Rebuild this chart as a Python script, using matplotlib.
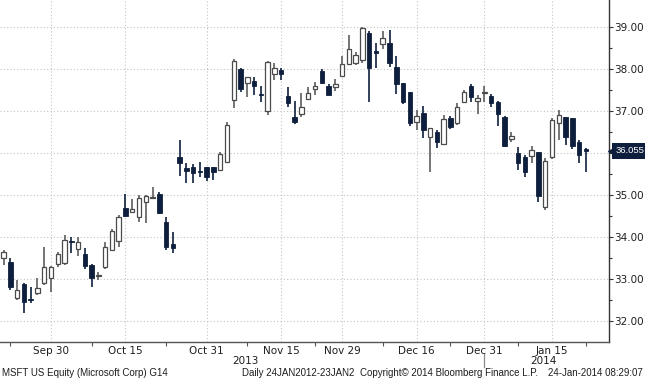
"""MSFT daily candles, Sep 2013 - Jan 2014, Bloomberg-style chart."""

import matplotlib

matplotlib.use("Agg")
import matplotlib.pyplot as plt
from matplotlib.lines import Line2D
from matplotlib.transforms import blended_transform_factory

# trading days, Sep 19 2013 .. Jan 23 2014
dates = [
    "Sep 19", "Sep 20", "Sep 23", "Sep 24", "Sep 25", "Sep 26", "Sep 27", "Sep 30",
    "Oct 1", "Oct 2", "Oct 3", "Oct 4", "Oct 7", "Oct 8", "Oct 9", "Oct 10",
    "Oct 11", "Oct 14", "Oct 15", "Oct 16", "Oct 17", "Oct 18", "Oct 21", "Oct 22",
    "Oct 23", "Oct 24", "Oct 25", "Oct 28", "Oct 29", "Oct 30", "Oct 31",
    "Nov 1", "Nov 4", "Nov 5", "Nov 6", "Nov 7", "Nov 8", "Nov 11", "Nov 12",
    "Nov 13", "Nov 14", "Nov 15", "Nov 18", "Nov 19", "Nov 20", "Nov 21", "Nov 22",
    "Nov 25", "Nov 26", "Nov 27", "Nov 29",
    "Dec 2", "Dec 3", "Dec 4", "Dec 5", "Dec 6", "Dec 9", "Dec 10", "Dec 11",
    "Dec 12", "Dec 13", "Dec 16", "Dec 17", "Dec 18", "Dec 19", "Dec 20", "Dec 23",
    "Dec 24", "Dec 26", "Dec 27", "Dec 30", "Dec 31",
    "Jan 2", "Jan 3", "Jan 6", "Jan 7", "Jan 8", "Jan 9", "Jan 10", "Jan 13",
    "Jan 14", "Jan 15", "Jan 16", "Jan 17", "Jan 21", "Jan 22", "Jan 23",
]
opens = [
    33.50, 33.40, 32.55, 32.88, 32.52, 32.67, 32.90, 33.02,
    33.36, 33.38, 33.90, 33.71, 33.60, 33.33, 33.07, 33.29,
    33.69, 33.90, 34.69, 34.60, 34.48, 34.83, 34.93, 35.02,
    34.36, 33.83, 35.90, 35.64, 35.67, 35.57, 35.67,
    35.67, 35.60, 35.79, 37.26, 38.00, 37.67, 37.71, 37.40,
    37.00, 37.88, 37.98, 37.36, 36.86, 36.93, 37.29, 37.52,
    37.95, 37.60, 37.57, 37.83,
    38.12, 38.14, 38.21, 38.86, 38.43, 38.60, 38.62, 38.05,
    37.67, 37.45, 36.74, 36.95, 36.38, 36.50, 36.21, 36.83,
    36.71, 37.21, 37.60, 37.24, 37.42,
    37.36, 37.21, 36.86, 36.33, 36.00, 35.90, 35.93, 36.02,
    34.71, 35.90, 36.71, 36.86, 36.83, 36.26, 36.10,
]
highs = [
    33.69, 33.50, 32.98, 32.90, 32.81, 33.02, 33.76, 33.31,
    33.64, 34.05, 34.00, 34.00, 33.74, 33.36, 33.17, 33.88,
    34.19, 34.52, 35.02, 34.90, 35.00, 35.00, 35.19, 35.07,
    34.48, 34.12, 36.31, 35.76, 35.74, 35.79, 35.67,
    35.67, 36.02, 36.74, 38.24, 38.02, 37.81, 37.81, 37.60,
    38.19, 38.14, 38.02, 37.57, 37.24, 37.43, 37.57, 37.69,
    38.00, 37.64, 37.76, 38.31,
    38.81, 38.40, 39.00, 38.90, 38.62, 38.90, 38.93, 38.31,
    37.67, 37.45, 37.02, 37.12, 36.60, 36.55, 36.90, 36.88,
    37.19, 37.50, 37.64, 37.38, 37.60,
    37.40, 37.24, 36.88, 36.50, 36.14, 35.95, 36.17, 36.02,
    35.88, 36.83, 37.02, 36.86, 36.83, 36.31, 36.12,
]
lows = [
    33.33, 32.74, 32.50, 32.19, 32.43, 32.62, 32.86, 32.69,
    33.29, 33.33, 33.62, 33.55, 33.24, 32.81, 32.98, 33.24,
    33.67, 33.76, 34.48, 34.57, 34.36, 34.33, 34.90, 34.55,
    33.69, 33.62, 35.45, 35.29, 35.29, 35.43, 35.33,
    35.36, 35.57, 35.79, 37.07, 37.45, 37.33, 37.38, 37.21,
    36.90, 37.74, 37.74, 37.10, 36.69, 36.86, 37.26, 37.38,
    37.64, 37.38, 37.48, 37.81,
    38.10, 38.10, 38.14, 37.21, 38.02, 38.48, 38.05, 37.40,
    37.17, 36.64, 36.55, 36.36, 35.55, 36.12, 36.19, 36.57,
    36.67, 37.19, 37.21, 36.93, 37.21,
    37.10, 36.64, 36.14, 36.26, 35.60, 35.43, 35.76, 34.83,
    34.64, 35.86, 36.31, 36.19, 36.10, 35.76, 35.55,
]
closes = [
    33.64, 32.81, 32.74, 32.45, 32.50, 32.79, 33.29, 33.29,
    33.60, 33.93, 33.88, 33.88, 33.31, 33.02, 33.10, 33.76,
    34.14, 34.48, 34.50, 34.67, 34.93, 34.98, 34.95, 34.57,
    33.76, 33.74, 35.76, 35.57, 35.52, 35.55, 35.43,
    35.55, 35.98, 36.67, 38.19, 37.52, 37.81, 37.60, 37.38,
    38.17, 38.02, 37.88, 37.19, 36.74, 37.10, 37.43, 37.60,
    37.67, 37.38, 37.64, 38.12,
    38.48, 38.33, 38.98, 38.02, 38.38, 38.74, 38.14, 37.64,
    37.21, 36.71, 36.88, 36.55, 36.60, 36.26, 36.81, 36.62,
    37.10, 37.45, 37.33, 37.31, 37.43,
    37.19, 36.93, 36.17, 36.40, 35.76, 35.55, 36.07, 34.98,
    35.81, 36.79, 36.90, 36.38, 36.17, 35.95, 36.055,
]

label_dates = ["Sep 30", "Oct 15", "Oct 31", "Nov 15", "Nov 29", "Dec 16", "Dec 31", "Jan 15"]
minor_dates = ["Sep 20", "Oct 8", "Oct 23", "Nov 8", "Nov 22", "Dec 9", "Dec 23", "Jan 8", "Jan 23"]
year_labels = [("2013", "Nov 8"), ("2014", "Jan 14")]
price_ticks = [32, 33, 34, 35, 36, 37, 38, 39]
last_price = closes[-1]

NAVY = "#0e1f3d"
HOLLOW_EDGE = "#4b4b4b"
HOLLOW_WICK = "#5e5e5e"
GRID = "#c4c4c4"
TEXT = "#1e1e1e"

footer = [
    (2, "MSFT US Equity (Microsoft Corp) G14"),
    (242, "Daily 24JAN2012-23JAN2"),
    (360, "Copyright\u00a9 2014 Bloomberg Finance L.P."),
    (548, "24-Jan-2014 08:29:07"),
]


def main() -> int:
    plt.rcParams["font.family"] = ["DejaVu Sans"]
    fig = plt.figure(figsize=(6.45, 3.80), dpi=100)
    ax = fig.add_axes([0.0, 0.1, 609 / 645, 0.9])

    idx = {d: i for i, d in enumerate(dates)}
    xs = list(range(len(dates)))

    # wicks first, bodies on top
    for x, o, h, l, c in zip(xs, opens, highs, lows, closes):
        up = c >= o
        ax.vlines(x, l, h, color=HOLLOW_WICK if up else NAVY, lw=1.2, zorder=2)
    for x, o, c in zip(xs, opens, closes):
        up = c >= o
        bottom = min(o, c)
        height = max(abs(c - o), 0.025)
        if up:
            ax.bar(x, height, bottom=bottom, width=0.66, facecolor="white",
                   edgecolor=HOLLOW_EDGE, linewidth=0.9, zorder=3)
        else:
            ax.bar(x, height, bottom=bottom, width=0.66, facecolor=NAVY,
                   edgecolor=NAVY, linewidth=0.6, zorder=3)

    ax.set_xlim(-0.53, 89.42)
    ax.set_ylim(31.5, 39.643)

    # gridlines
    for p in price_ticks:
        ax.axhline(p, color=GRID, lw=0.8, ls=(0, (1, 2)), zorder=1)
    for d in label_dates:
        ax.axvline(idx[d], color=GRID, lw=0.8, ls=(0, (1, 2)), zorder=1)

    # spines
    for side in ("left", "top"):
        ax.spines[side].set_visible(False)
    ax.spines["right"].set_color("#333333")
    ax.spines["bottom"].set_color("#555555")
    ax.spines["right"].set_linewidth(1.0)
    ax.spines["bottom"].set_linewidth(1.0)

    # y axis on the right; the last-price tag sits where 36.00 would be
    ax.yaxis.tick_right()
    ax.set_yticks(price_ticks)
    ax.set_yticklabels(["" if p == round(last_price) else f"{p:.2f}" for p in price_ticks])
    ax.set_yticks([p + 0.5 for p in price_ticks[:-1]], minor=True)
    ax.tick_params(axis="y", which="major", length=3, width=0.8, pad=1,
                   colors="#333333", labelcolor=TEXT, labelsize=7.5)
    ax.tick_params(axis="y", which="minor", length=2, width=0.8, colors="#333333")

    # x axis
    ax.set_xticks([idx[d] for d in label_dates])
    ax.set_xticklabels(label_dates)
    ax.set_xticks([idx[d] for d in minor_dates], minor=True)
    ax.tick_params(axis="x", which="major", length=0, pad=3,
                   labelcolor=TEXT, labelsize=7.5)
    ax.tick_params(axis="x", which="minor", length=3, width=0.8, colors="#555555")

    # year labels and separator
    trans = blended_transform_factory(ax.transData, fig.transFigure)
    for text, d in year_labels:
        ax.text(idx[d] - 0.3, 0.05, text, transform=trans, ha="center", va="center",
                fontsize=7.5, color=TEXT)
    fig.add_artist(Line2D([idx["Dec 31"]] * 2, [0.034, 0.068], transform=trans,
                          color="#8a8a8a", lw=0.9))

    # last-price tag: arrow head plus box
    ytrans = blended_transform_factory(ax.transAxes, ax.transData)
    ax.plot([1.0 + 4.5 / 609], [last_price], marker="<", ms=8, color=NAVY,
            transform=ytrans, clip_on=False, zorder=5)
    ax.text(1.0 + 6.5 / 609, last_price, f"{last_price:.3f}", transform=ytrans,
            ha="left", va="center", fontsize=6.8, color="white", clip_on=False,
            family=["Liberation Sans", "DejaVu Sans"], zorder=6,
            bbox=dict(boxstyle="square,pad=0.38", fc=NAVY, ec="none"))

    # footer
    for x, text in footer:
        fig.text(x / 645, 0.018, text, ha="left", va="center", fontsize=7,
                 color=TEXT, family=["Liberation Sans", "DejaVu Sans"])

    fig.savefig("out.png", dpi=100)
    return 0


if __name__ == "__main__":
    raise SystemExit(main())
